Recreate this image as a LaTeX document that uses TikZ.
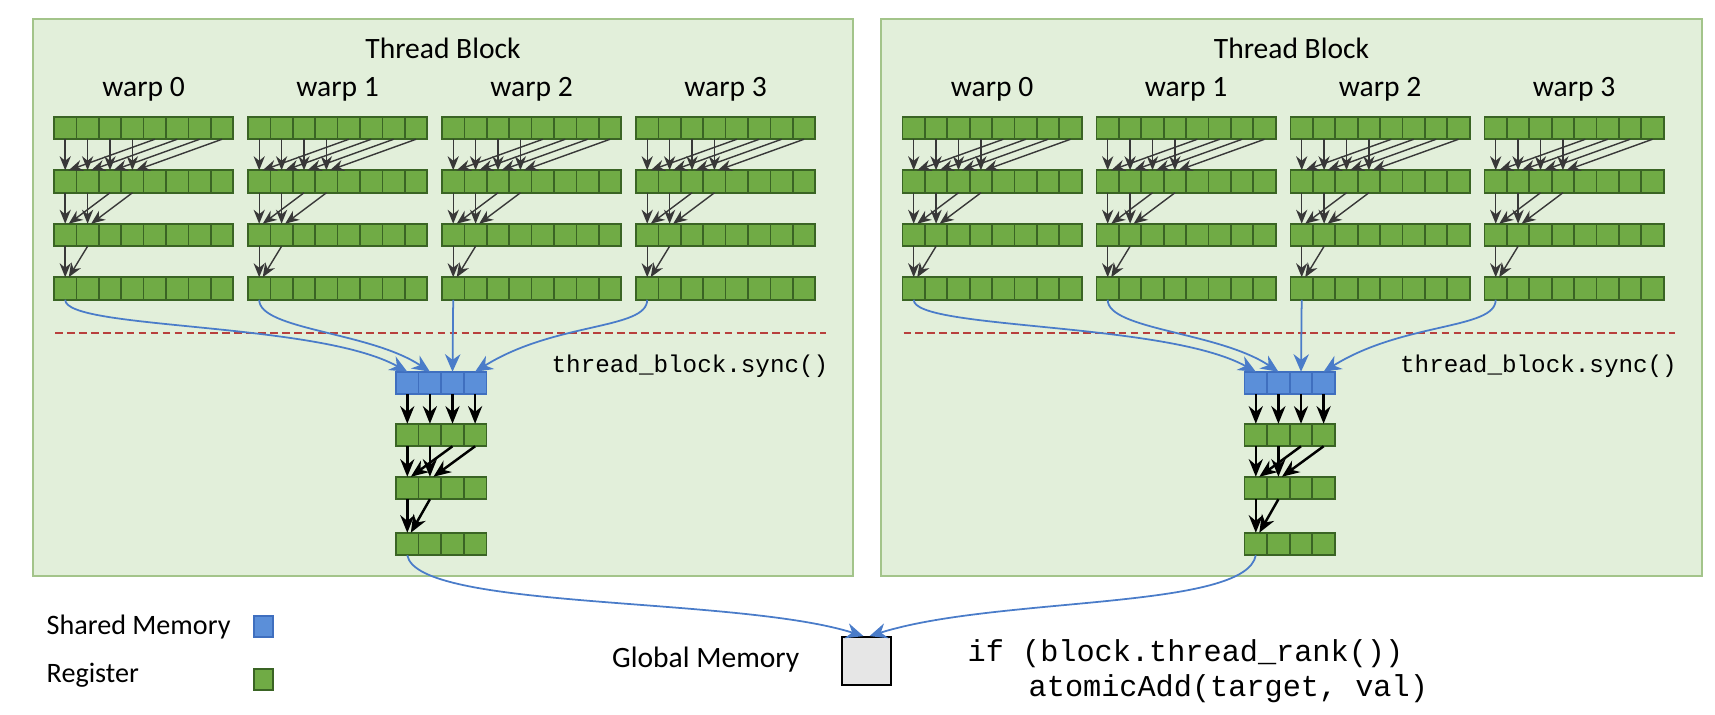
\documentclass[tikz,border=0pt]{standalone}
\usepackage{fontspec}
\setmainfont{Carlito}
\setmonofont{Liberation Mono}
\usetikzlibrary{arrows.meta}

\definecolor{blockfill}{HTML}{E2EFDA}
\definecolor{blockline}{HTML}{A3C48A}
\definecolor{regfill}{HTML}{70AB45}
\definecolor{regline}{HTML}{3A6424}
\definecolor{shmfill}{HTML}{5B8FD9}
\definecolor{shmline}{HTML}{3F6FBF}
\definecolor{flowblue}{HTML}{4A7CC9}
\definecolor{syncred}{HTML}{B8403D}
\definecolor{arrowgray}{HTML}{383838}
\definecolor{gmemfill}{HTML}{E6E6E6}

\tikzset{
  block/.style={draw=blockline, fill=blockfill, line width=0.5pt, minimum width=8.2cm, minimum height=5.57cm, inner sep=0pt},
  reg/.style={draw=regline, fill=regfill, line width=0.5pt, minimum width=0.224cm, minimum height=0.225cm, inner sep=0pt, outer sep=0pt},
  shm/.style={reg, draw=shmline, fill=shmfill},
  legsq/.style={minimum width=0.19cm, minimum height=0.21cm},
  gmem/.style={draw=black, fill=gmemfill, line width=0.5pt, minimum width=0.49cm, minimum height=0.48cm, inner sep=0pt},
  plain/.style={inner sep=0pt},
  code/.style={inner sep=0pt, font=\ttfamily\fontsize{6.9}{8}\selectfont},
  bigcode/.style={inner sep=0pt, font=\ttfamily\fontsize{8.6}{10}\selectfont},
  warparrow/.style={-{Stealth[length=4pt,width=3.2pt]}, draw=arrowgray, line width=0.4pt},
  reduce/.style={-{Stealth[length=5pt,width=4pt]}, draw=black, line width=0.7pt},
  flow/.style={-{Stealth[length=5pt,width=4.4pt]}, draw=flowblue, line width=0.5pt},
  syncline/.style={draw=syncred, line width=0.4pt, dash pattern=on 2.2pt off 1.2pt}
}

\begin{document}
\begin{tikzpicture}[x=0.01cm, y=-0.01cm, font=\fontsize{8.4}{10}\selectfont]
\useasboundingbox (0,0) rectangle (1715,714);

\node[gmem] (gmem) at (866.5,661) {};

\foreach \b in {0,1} {
  \begin{scope}[xshift=\b*8.48cm]
    \node[block] (blk\b) at (443,297.5) {};
    \node[plain] (title\b) at (443,48) {Thread Block};
    % four warps, each reduced over four rows
    \foreach \w in {0,...,3} {
      \node[plain] (wname\b\w) at (143.6+194*\w,89) {warp \w};
      \foreach \r in {0,...,3}
        \foreach \c in {0,...,7}
          \node[reg] (c\b\w\r\c) at (65.2+194*\w+22.4*\c,128+53.5*\r) {};
      \foreach \r/\rr/\pairs in {0/1/{0/4,1/5,2/6,3/7},1/2/{0/2,1/3},2/3/{0/1}}
        \foreach \c/\d in \pairs {
          \draw[warparrow] (c\b\w\r\c.south) -- (c\b\w\rr\c.north);
          \draw[warparrow] (c\b\w\r\d.south) -- ([xshift=0.035cm]c\b\w\rr\c.north);
        }
    }
    \draw[syncline] (55,333) -- (826,333);
    \node[code] (sync\b) at (690,366) {thread\_block.sync()};
    % shared memory and the last reduction
    \foreach \c in {0,...,3}
      \node[shm, minimum width=0.226cm] (s\b0\c) at (407.3+22.6*\c,383) {};
    \foreach \r/\y in {1/435,2/488,3/544}
      \foreach \c in {0,...,3}
        \node[reg, minimum width=0.226cm] (s\b\r\c) at (407.3+22.6*\c,\y) {};
    \foreach \c in {0,...,3}
      \draw[reduce] (s\b0\c.south) -- (s\b1\c.north);
    \foreach \r/\rr/\pairs in {1/2/{0/2,1/3},2/3/{0/1}}
      \foreach \c/\d in \pairs {
        \draw[reduce] (s\b\r\c.south) -- (s\b\rr\c.north);
        \draw[reduce] (s\b\r\d.south) -- ([xshift=0.035cm]s\b\rr\c.north);
      }
    % warp results to shared memory
    \draw[flow] (c\b030.south) .. controls +(0,30) and +(-90,-50) .. (s\b00.north);
    \draw[flow] (c\b130.south) .. controls +(0,30) and +(-60,-40) .. (s\b01.north);
    \draw[flow] (c\b230.south) -- (s\b02.north);
    \draw[flow] (c\b330.south) .. controls +(0,30) and +(80,-50) .. (s\b03.north);
  \end{scope}
}

\draw[flow] (s030.south) .. controls +(10,55) and +(-127,-40) .. ([xshift=-0.03cm]gmem.north);
\draw[flow] (s130.south) .. controls +(-10,55) and +(127,-40) .. ([xshift=0.03cm]gmem.north);

% legend
\node[plain, anchor=west, font=\fontsize{8}{10}\selectfont] (lshm) at (46,627) {Shared Memory};
\node[shm, legsq] (lshmsq) at (263.5,626.5) {};
\node[plain, anchor=west, font=\fontsize{8}{10}\selectfont] (lreg) at (46,675) {Register};
\node[reg, legsq] (lregsq) at (263.5,679.5) {};

\node[plain, anchor=base east] (gname) at (800,667) {Global Memory};
\node[bigcode, anchor=west] (code1) at (967,654) {if (block.thread\_rank())};
\node[bigcode, anchor=west] (code2) at (1028,689) {atomicAdd(target, val)};
\end{tikzpicture}
\end{document}
